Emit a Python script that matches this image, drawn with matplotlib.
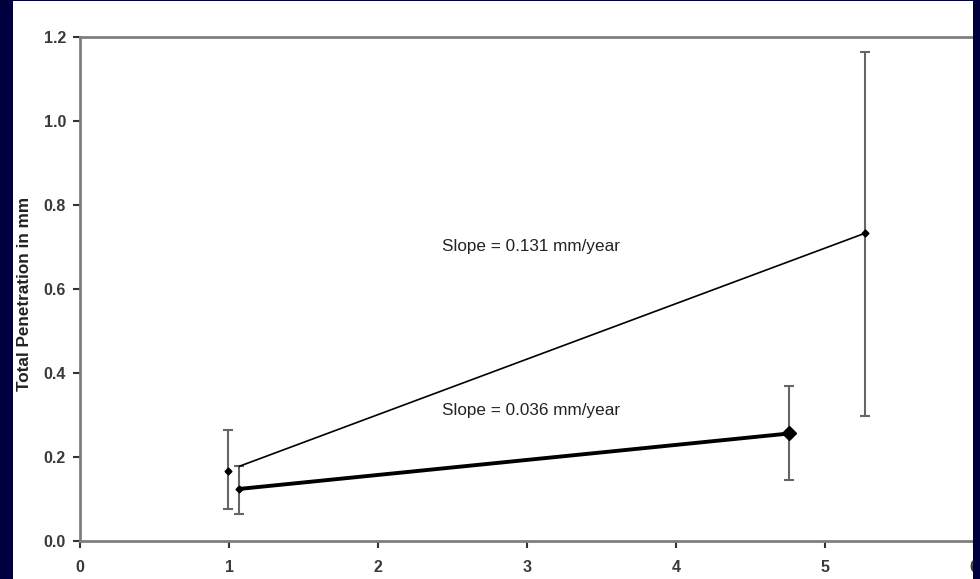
import numpy as np
import matplotlib.pyplot as plt
from matplotlib.patches import Rectangle

plt.rcParams["font.family"] = ["Liberation Sans", "DejaVu Sans"]

# Data (years, penetration in mm)
thin_x = [0.99, 5.27]
thin_y = [0.167, 0.733]
thin_err_lo = [0.090, 0.435]
thin_err_hi = [0.097, 0.432]
thin_fit_x = [1.07, 5.27]
thin_fit_y = [0.178, 0.733]

thick_x = [1.07, 4.76]
thick_y = [0.124, 0.256]
thick_err_lo = [0.060, 0.111]
thick_err_hi = [0.054, 0.112]

slope_labels = ["Slope = 0.131 mm/year", "Slope = 0.036 mm/year"]
slope_pos = [(3.03, 0.70), (3.03, 0.31)]

xticks = [0, 1, 2, 3, 4, 5, 6]
yticks = [0.0, 0.2, 0.4, 0.6, 0.8, 1.0, 1.2]

navy = "#00003f"
grey = "#7f7f7f"

fig = plt.figure(figsize=(9.8, 5.79), dpi=100)
fig.patch.set_facecolor(navy)
fig.patches.append(Rectangle((13 / 980, 0), 960 / 980, 578 / 579,
                             transform=fig.transFigure, facecolor="white",
                             edgecolor="none", zorder=-1))

ax = fig.add_axes([80 / 980, 38 / 579, 894 / 980, 504 / 579])
ax.set_facecolor("white")

# error bars
ax.errorbar(thin_x, thin_y, yerr=[thin_err_lo, thin_err_hi], fmt="none",
            ecolor="#666666", elinewidth=1.5, capsize=3.5, capthick=1.5)
ax.errorbar(thick_x, thick_y, yerr=[thick_err_lo, thick_err_hi], fmt="none",
            ecolor="#666666", elinewidth=1.5, capsize=3.5, capthick=1.5)

# thin trend line and points
ax.plot(thin_fit_x, thin_fit_y, color="black", lw=1.2)
ax.plot(thin_x, thin_y, "D", color="black", ms=3.5)

# thick line
ax.plot(thick_x, thick_y, color="black", lw=2.8)
ax.plot(thick_x[:1], thick_y[:1], "D", color="black", ms=3.5)
ax.plot(thick_x[1:], thick_y[1:], "D", color="black", ms=7)

for lab, (px, py) in zip(slope_labels, slope_pos):
    ax.text(px, py, lab, ha="center", va="center", fontsize=12.3,
            color="#222222")

ax.set_xlim(0, 6)
ax.set_ylim(0, 1.2)
ax.set_xticks(xticks)
ax.set_yticks(yticks)
ax.set_xticklabels([str(t) for t in xticks])
ax.set_yticklabels(["%.1f" % t for t in yticks])
ax.tick_params(colors="#333333", labelsize=11.5, length=5, width=1.5,
               pad=5)
ax.tick_params(axis="x", pad=9)
for t in ax.get_xticklabels() + ax.get_yticklabels():
    t.set_fontweight("bold")
    t.set_color("#3a3a3a")

for s in ["left", "bottom", "top"]:
    ax.spines[s].set_color(grey)
    ax.spines[s].set_linewidth(2)
ax.spines["right"].set_visible(False)

fig.text(25 / 980, 1 - 294 / 579, "Total Penetration in mm", rotation=90,
         ha="center", va="center", fontsize=12.3, fontweight="bold",
         color="#222222")

# navy border on the right drawn over the axes
fig.patches.append(Rectangle((973 / 980, 0), 7 / 980, 1,
                             transform=fig.transFigure, facecolor=navy,
                             edgecolor="none", zorder=10))

fig.savefig("out.png", dpi=100, facecolor=fig.get_facecolor())
